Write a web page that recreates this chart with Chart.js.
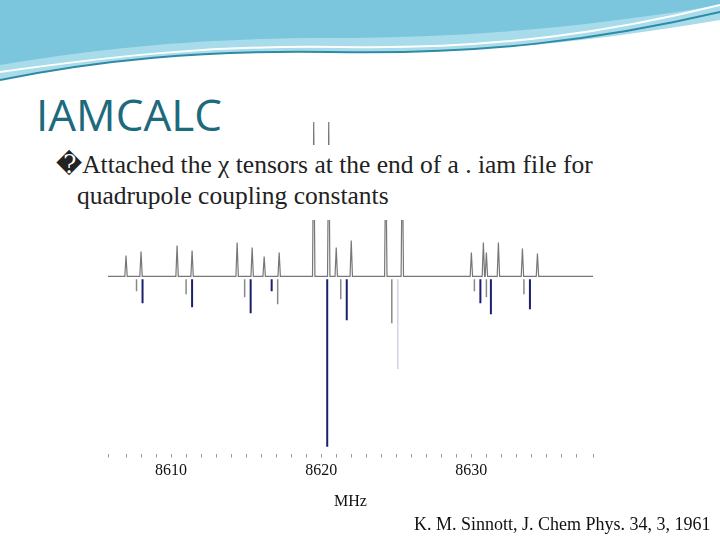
<!DOCTYPE html>
<html>
<head>
<meta charset="utf-8">
<script src="https://cdn.jsdelivr.net/npm/chart.js"></script>
<style>
  body { margin: 0; width: 720px; height: 540px; background: #fff; position: relative; overflow: hidden; font-family: "Liberation Serif", "DejaVu Serif", serif; }
  #wave { position: absolute; left: 0; top: 0; }
  #title { position: absolute; left: 36px; top: 84px; font-family: "Open Sans", sans-serif; font-size: 44px; color: #1c6a7c; }
  #box { position: absolute; left: 56px; top: 145px; width: 640px; height: 75px; background: #fff; font-family: "Liberation Serif", "DejaVu Serif", serif; font-size: 25.5px; color: #222; line-height: 31px; padding-top: 4px; box-sizing: border-box; z-index: 2; }
  #box span { padding-left: 21px; }
  #wrap { position: absolute; left: 100px; top: 110px; width: 500px; height: 405px; }
  #cite { position: absolute; left: 414px; top: 514px; font-size: 18px; color: #111; }
</style>
</head>
<body>
<svg id="wave" width="720" height="90">
  <path d="M0,0 H720 V20 C600,40 480,55 330,52 C200,50 100,60 0,80 Z" fill="#a8dcea"/>
  <path d="M0,0 H720 V5 C600,25 480,38 330,38 C200,38 100,48 0,65 Z" fill="#7cc6dd"/>
  <path d="M0,80 C100,60 200,50 330,52 C480,55 600,40 720,12" stroke="#2f8aa6" stroke-width="2" fill="none"/>
  <path d="M0,72 C120,55 220,45 340,47 C500,50 620,30 720,5" stroke="#ffffff" stroke-width="2" fill="none"/>
</svg>
<div id="title">IAMCALC</div>
<div id="box">&#xFFFD;Attached the &chi; tensors at the end of a . iam file for<br><span>quadrupole coupling constants</span></div>
<div id="wrap"><canvas id="c"></canvas></div>
<div id="cite">K. M. Sinnott, J. Chem Phys. 34, 3, 1961</div>
<script>
// line positions in MHz, intensities in arbitrary units
const upperPos = [8607.0, 8608.0, 8610.4, 8611.4, 8614.4, 8615.4, 8616.2, 8617.2, 8619.5, 8620.5, 8621.0, 8622.0, 8624.3, 8625.4, 8630.0, 8630.8, 8631.0, 8631.8, 8633.4, 8634.4];
const upperInt = [21, 25, 31, 26, 34, 29, 20, 24, 155, 155, 29, 36, 130, 130, 24, 34, 24, 34, 28, 23];
const lowerPos = [8607.7, 8608.1, 8611.0, 8611.4, 8614.9, 8615.3, 8616.7, 8617.1, 8620.0, 8620.4, 8621.3, 8621.7, 8624.7, 8625.1, 8630.2, 8630.6, 8631.0, 8631.3, 8633.5, 8633.9];
const lowerInt = [-15, -27, -18, -31, -21, -37, -15, -28, -90, -171, -23, -44, -47, -93, -15, -27, -21, -38, -18, -33];
const lowerKind = ['g','n','g','n','g','n','n','g','l','n','g','n','g','l','g','n','g','n','g','n'];
const xMin = 8605.8, xMax = 8638.1;

const trace = [{x: xMin, y: 0}];
upperPos.forEach((p, i) => {
  trace.push({x: p - 0.08, y: 0}, {x: p, y: upperInt[i]}, {x: p + 0.08, y: 0});
});
trace.push({x: xMax, y: 0});

const kinds = {g: '#888888', n: '#1a1f6e', l: '#d0d4e4'};
const lowerSets = Object.keys(kinds).map(k => {
  const pts = [];
  lowerPos.forEach((p, i) => {
    if (lowerKind[i] !== k) return;
    pts.push({x: p, y: -3}, {x: p, y: lowerInt[i]}, {x: null, y: null});
  });
  return {data: pts, borderColor: kinds[k], borderWidth: k === 'n' ? 2 : 1.5, pointRadius: 0, spanGaps: false};
});

new Chart(document.getElementById('c'), {
  type: 'line',
  data: {
    datasets: [{data: trace, borderColor: '#777', borderWidth: 1.2, pointRadius: 0}].concat(lowerSets)
  },
  options: {
    responsive: true, maintainAspectRatio: false, animation: false,
    parsing: false,
    layout: {padding: {left: 8, right: 7, top: 12}},
    plugins: {legend: {display: false}, tooltip: {enabled: false}},
    scales: {
      x: {
        type: 'linear', min: xMin, max: xMax,
        border: {display: false},
        grid: {drawOnChartArea: false, tickLength: 4, color: '#999'},
        ticks: {stepSize: 1, autoSkip: false, maxRotation: 0, padding: 4, color: '#111',
          font: {family: 'Liberation Serif', size: 16},
          callback: v => (Math.round(v) % 10 === 0 ? String(Math.round(v)) : '')},
        title: {display: true, text: 'MHz', color: '#111', font: {family: 'Liberation Serif', size: 16}, padding: {top: 7}}
      },
      y: {display: false, min: -178, max: 155}
    }
  }
});
</script>
</body>
</html>
